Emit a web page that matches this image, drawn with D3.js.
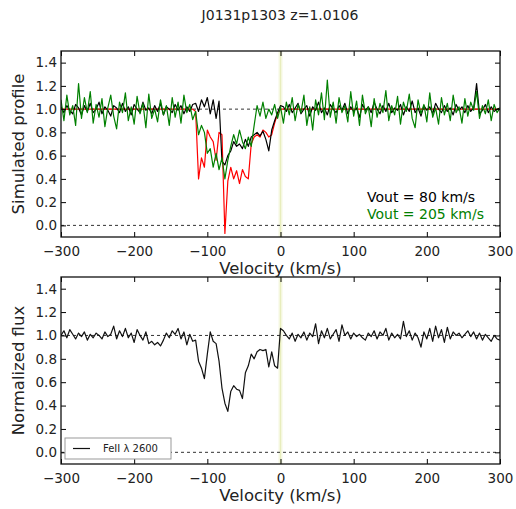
<!DOCTYPE html>
<html><head><meta charset="utf-8">
<script src="https://cdn.jsdelivr.net/npm/d3@7"></script>
<style>body{margin:0;background:#fff}svg{display:block}text{font-family:"DejaVu Sans",sans-serif}</style>
</head><body>
<script>
// Velocity grid: -300 .. 300 km/s in 4 km/s steps (151 samples)
const vStart = -300, vStep = 4;
const xTicks = [-300, -200, -100, 0, 100, 200, 300];
const yTicks = [0.0, 0.2, 0.4, 0.6, 0.8, 1.0, 1.2, 1.4];
const titleText = "J0131p1303 z=1.0106";
const labels = ["Vout = 80 km/s", "Vout = 205 km/s"];
const legendLabel = "FeII \u03bb 2600";

// Red model profile
const redProfile = [
 1,1,1,1,1,1,1,1,1,1,1,1,1,1,1,1,1,1,1,1,
 1,1,1,1,1,1,1,1,1,1,1,1,1,1,1,1,1,1,1,1,
 1,1,1,1,1,1,
 0.98,0.40,0.58,0.50,0.82,0.76,0.72,0.56,0.80,0.78,
 -0.07,0.38,0.50,0.40,0.47,0.36,0.48,0.42,0.40,0.70,
 0.76,0.78,0.76,0.82,0.80,0.76,0.78,0.88,0.96,1.00,
 1,1,1,1,1,1,1,1,1,1,1,1,1,1,1,1,1,1,1,1,
 1,1,1,1,1,1,1,1,1,1,1,1,1,1,1,1,1,1,1,1,
 1,1,1,1,1,1,1,1,1,1,1,1,1,1,1,1,1,1,1,1,
 1,1,1,1,1,1,1,1,1,1,1,1,1,1,1
];
// Vout = 80 km/s (black)
const blackProfile = [
 1.02,0.97,1.03,0.99,0.96,1.04,1.01,0.95,1.03,0.98,1.05,0.97,1.00,1.06,0.96,1.02,0.99,0.94,1.03,1.01,
 0.97,1.05,0.98,1.02,0.95,1.04,1.00,0.97,1.06,0.99,1.01,0.96,1.03,0.98,1.05,0.95,1.02,1.00,0.97,1.04,
 0.99,1.03,0.96,1.02,0.98,1.04,
 1.05,0.98,1.08,1.02,1.10,0.96,1.08,0.92,1.07,0.55,
 0.52,0.60,0.64,0.72,0.68,0.70,0.66,0.74,0.68,0.76,
 0.78,0.80,0.77,0.81,0.74,0.64,0.82,0.90,0.97,1.03,
 1.02,0.98,1.04,0.97,1.01,1.05,0.96,1.00,1.03,0.94,1.02,0.99,1.06,0.97,1.01,0.95,1.04,1.00,0.97,1.03,
 0.99,1.05,0.96,1.02,0.98,1.01,0.93,1.04,0.99,1.02,0.97,1.06,1.00,0.96,1.03,0.98,1.05,0.97,1.01,0.99,
 1.04,0.95,1.02,0.98,1.07,0.97,1.01,0.94,1.03,0.99,1.02,0.96,1.05,1.00,0.97,1.03,0.98,1.01,0.95,1.04,
 0.99,1.02,0.97,1.03,0.98,1.01,1.22,0.96,0.99,1.04,0.97,1.02,0.98,1.00,1.01
];
// Vout = 205 km/s (green)
const greenProfile = [
 1.08,0.90,1.12,0.95,1.03,0.86,1.22,0.92,1.10,0.97,1.15,0.88,1.04,0.93,1.09,0.85,1.01,1.12,0.94,0.83,
 1.06,0.97,1.14,0.90,1.02,0.87,1.11,0.96,1.05,0.84,1.13,0.92,1.00,0.89,1.08,0.95,1.03,0.86,1.10,0.93,
 1.06,0.88,1.12,0.97,1.04,0.91,
 0.98,0.78,0.86,0.80,0.62,0.66,0.50,0.62,0.48,0.58,
 0.40,0.56,0.68,0.78,0.70,0.82,0.72,0.66,0.76,0.68,
 0.86,1.03,0.94,1.06,0.92,1.00,0.95,1.04,0.92,1.02,
 0.88,1.06,0.95,1.10,0.90,1.04,0.97,1.12,0.86,1.02,0.82,1.08,0.95,1.14,0.91,1.25,0.93,1.06,0.88,1.10,
 0.97,1.03,0.89,1.15,0.94,1.07,0.86,1.12,0.96,1.02,0.85,1.09,0.93,1.05,0.97,1.16,0.90,1.03,0.95,1.11,
 0.87,1.06,0.98,1.13,0.92,0.84,1.08,0.96,1.04,0.89,1.14,0.93,1.01,0.87,1.10,0.95,1.05,0.90,1.12,0.97,
 1.02,0.88,1.09,0.94,1.06,0.99,1.15,0.92,1.03,0.96,1.08,0.90,1.04,0.97,1.01
];
// Observed FeII 2600 normalized flux
const feiiFlux = [
 1.00,1.04,0.98,1.05,1.01,0.97,1.02,0.99,1.03,0.96,1.01,0.98,1.02,1.00,0.97,1.03,0.99,1.01,1.08,0.97,
 1.04,0.99,1.06,0.98,1.02,0.94,1.05,1.00,0.96,1.03,0.93,0.95,0.92,0.94,0.91,0.96,1.02,0.98,1.04,1.01,
 1.06,0.97,1.03,0.92,1.01,0.95,
 0.96,0.78,0.72,0.63,0.84,1.03,0.95,0.93,0.78,0.55,
 0.42,0.35,0.52,0.57,0.54,0.53,0.46,0.68,0.74,0.84,
 0.80,0.86,0.88,0.87,0.88,0.73,0.86,0.74,0.72,1.06,
 1.04,1.00,0.97,1.02,0.95,1.01,0.98,1.03,0.96,1.02,0.99,1.10,0.93,1.04,0.98,1.06,0.97,1.01,1.05,0.95,
 1.09,1.00,1.03,0.97,1.02,0.99,1.01,0.98,0.96,1.02,0.99,1.04,0.97,1.03,1.00,1.06,0.96,1.02,0.98,1.01,
 0.97,1.12,0.99,1.04,0.96,1.02,0.98,0.90,1.03,0.97,1.06,0.95,1.08,0.98,1.05,0.94,1.07,0.97,1.03,1.00,
 1.02,0.98,1.01,1.04,0.99,1.03,0.97,1.02,0.96,1.01,0.98,0.95,1.00,0.97,0.96
];

const W = 516, H = 509;
const svg = d3.select("body").append("svg").attr("width", W).attr("height", H);

svg.append("text").attr("x", 280).attr("y", 20).attr("text-anchor", "middle")
  .attr("font-size", 14).attr("fill", "#222").text(titleText);

const left = 61, right = 500;
const panels = [
  {top: 51, bottom: 237, ylabel: "Simulated profile",
   series: [{d: redProfile, c: "#ff0000"}, {d: blackProfile, c: "#000"}, {d: greenProfile, c: "#008000"}]},
  {top: 277, bottom: 464, ylabel: "Normalized flux",
   series: [{d: feiiFlux, c: "#111"}]}
];

const x = d3.scaleLinear().domain([-300, 300]).range([left, right]);

panels.forEach((p, pi) => {
  const y = d3.scaleLinear().domain([-0.1, 1.5]).range([p.bottom, p.top]);
  const g = svg.append("g");
  const clipId = "clip" + pi;
  svg.append("clipPath").attr("id", clipId).append("rect")
    .attr("x", left).attr("y", p.top).attr("width", right - left).attr("height", p.bottom - p.top);
  const plot = g.append("g").attr("clip-path", `url(#${clipId})`);

  // zero-velocity marker (faint)
  plot.append("line").attr("x1", x(0)).attr("x2", x(0)).attr("y1", p.top).attr("y2", p.bottom)
    .attr("stroke", "#f6f8e2").attr("stroke-width", 4);
  plot.append("line").attr("x1", x(0)).attr("x2", x(0)).attr("y1", p.top).attr("y2", p.bottom)
    .attr("stroke", "#e8edbd").attr("stroke-width", 1.2);

  // dashed reference lines
  [0, 1].forEach(v => {
    plot.append("line").attr("x1", left).attr("x2", right).attr("y1", y(v)).attr("y2", y(v))
      .attr("stroke", "#333").attr("stroke-width", 1).attr("stroke-dasharray", "3,3");
  });

  const line = d3.line().x((d, i) => x(vStart + vStep * i)).y(d => y(d));
  p.series.forEach(s => {
    plot.append("path").datum(s.d).attr("d", line).attr("fill", "none")
      .attr("stroke", s.c).attr("stroke-width", 1.2).attr("stroke-linejoin", "round");
  });

  // axes (ticks inward on all sides)
  const ax = d3.axisBottom(x).tickValues(xTicks).tickSize(-5).tickPadding(9)
    .tickFormat(d => d < 0 ? "\u2212" + Math.abs(d) : d);
  g.append("g").attr("transform", `translate(0,${p.bottom})`).call(ax)
    .call(a => { a.select(".domain").remove(); a.selectAll("text").attr("font-size", 13.5).attr("fill", "#222").attr("font-family", "DejaVu Sans"); });
  g.append("g").attr("transform", `translate(0,${p.top})`).call(d3.axisTop(x).tickValues(xTicks).tickSize(-5).tickFormat(""))
    .call(a => a.select(".domain").remove());
  const ay = d3.axisLeft(y).tickValues(yTicks).tickSize(-5).tickPadding(4).tickFormat(d3.format(".1f"));
  g.append("g").attr("transform", `translate(${left},0)`).call(ay)
    .call(a => { a.select(".domain").remove(); a.selectAll("text").attr("font-size", 13.5).attr("fill", "#222").attr("font-family", "DejaVu Sans"); });
  g.append("g").attr("transform", `translate(${right},0)`).call(d3.axisRight(y).tickValues(yTicks).tickSize(-5).tickFormat(""))
    .call(a => a.select(".domain").remove());

  g.append("rect").attr("x", left).attr("y", p.top).attr("width", right - left).attr("height", p.bottom - p.top)
    .attr("fill", "none").attr("stroke", "#111").attr("stroke-width", 1.3);

  g.append("text").attr("x", (left + right) / 2).attr("y", p.bottom + 37).attr("text-anchor", "middle")
    .attr("font-size", 16.5).attr("fill", "#222").text("Velocity (km/s)");
  g.append("text").attr("transform", `translate(24,${(p.top + p.bottom) / 2}) rotate(-90)`)
    .attr("text-anchor", "middle").attr("font-size", 16.5).attr("fill", "#222").text(p.ylabel);

  if (pi === 0) {
    g.append("text").attr("x", 367).attr("y", 202).attr("font-size", 14).attr("fill", "#000").text(labels[0]);
    g.append("text").attr("x", 367).attr("y", 219).attr("font-size", 14).attr("fill", "#008000").text(labels[1]);
  } else {
    const lg = g.append("g");
    lg.append("rect").attr("x", 65).attr("y", 438).attr("width", 106).attr("height", 21)
      .attr("fill", "#fff").attr("stroke", "#999").attr("stroke-width", 1);
    lg.append("line").attr("x1", 73).attr("x2", 90).attr("y1", 448.5).attr("y2", 448.5)
      .attr("stroke", "#111").attr("stroke-width", 1.2);
    lg.append("text").attr("x", 103).attr("y", 452).attr("font-size", 10).attr("fill", "#222").text(legendLabel);
  }
});
</script>
</body></html>
